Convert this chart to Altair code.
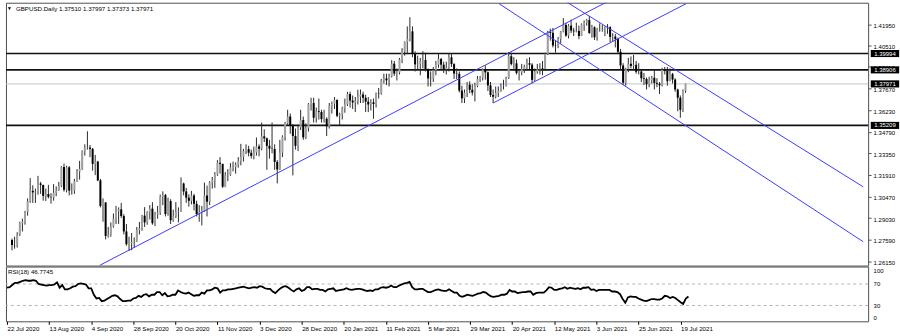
import altair as alt
import pandas as pd

# ---------------- data ----------------
first_open = 1.2758
closes = [
    1.2725, 1.2724, 1.2793, 1.2870, 1.2879, 1.2945, 1.3014, 1.3085, 1.3075, 1.3079,
    1.3134, 1.3125, 1.3052, 1.3064, 1.3045, 1.3042, 1.3073, 1.3088, 1.3118, 1.3244,
    1.3093, 1.3242, 1.3087, 1.3088, 1.3150, 1.3214, 1.3232, 1.3348, 1.3370, 1.3373,
    1.3365, 1.3265, 1.3280, 1.3155, 1.2985, 1.3008, 1.2785, 1.2795, 1.2849, 1.2898,
    1.2951, 1.2962, 1.2918, 1.2815, 1.2730, 1.2737, 1.2745, 1.2748, 1.2824, 1.2835,
    1.2920, 1.2875, 1.2944, 1.2967, 1.2870, 1.2929, 1.2940, 1.3046, 1.3057, 1.2931,
    1.3017, 1.2890, 1.2916, 1.2946, 1.2950, 1.3134, 1.3081, 1.3040, 1.3019, 1.3054,
    1.2999, 1.2931, 1.2944, 1.2950, 1.3054, 1.3013, 1.3142, 1.3155, 1.3194, 1.3272,
    1.3265, 1.3113, 1.3190, 1.3192, 1.3242, 1.3244, 1.3259, 1.3284, 1.3312, 1.3349,
    1.3363, 1.3339, 1.3318, 1.3341, 1.3381, 1.3365, 1.3448, 1.3435, 1.3385, 1.3366,
    1.3364, 1.3278, 1.3228, 1.3340, 1.3445, 1.3536, 1.3580, 1.3518, 1.3450, 1.3385,
    1.3507, 1.3557, 1.3441, 1.3502, 1.3662, 1.3670, 1.3572, 1.3615, 1.3610, 1.3563,
    1.3565, 1.3515, 1.3649, 1.3665, 1.3690, 1.3585, 1.3595, 1.3636, 1.3661, 1.3730,
    1.3686, 1.3674, 1.3682, 1.3712, 1.3727, 1.3705, 1.3679, 1.3660, 1.3675, 1.3663,
    1.3735, 1.3733, 1.3821, 1.3834, 1.3821, 1.3847, 1.3932, 1.3866, 1.3873, 1.3960,
    1.4012, 1.4078, 1.4095, 1.4147, 1.3996, 1.3927, 1.3931, 1.3950, 1.3957, 1.3895,
    1.3834, 1.3833, 1.3888, 1.3925, 1.3963, 1.3925, 1.3895, 1.3905, 1.3974, 1.3929,
    1.3866, 1.3864, 1.3753, 1.3701, 1.3738, 1.3792, 1.3758, 1.3739, 1.3783, 1.3830,
    1.3838, 1.3893, 1.3874, 1.3787, 1.3723, 1.3712, 1.3737, 1.3749, 1.3783, 1.3785,
    1.3836, 1.3981, 1.3929, 1.3934, 1.3870, 1.3874, 1.3895, 1.3913, 1.3935, 1.3925,
    1.3824, 1.3878, 1.3894, 1.3902, 1.3898, 1.3997, 1.4143, 1.4137, 1.4053, 1.4051,
    1.4096, 1.4146, 1.4190, 1.4119, 1.4185, 1.4152, 1.4147, 1.4150, 1.4116, 1.4193,
    1.4205, 1.4222, 1.4136, 1.4174, 1.4108, 1.4159, 1.4160, 1.4163, 1.4169, 1.4175,
    1.4110, 1.4112, 1.4095, 1.4011, 1.3920, 1.3805, 1.3896, 1.3931, 1.3917, 1.3924,
    1.3878, 1.3880, 1.3835, 1.3830, 1.3795, 1.3820, 1.3838, 1.3804, 1.3798, 1.3788,
    1.3891, 1.3885, 1.3815, 1.3862, 1.3826, 1.3760, 1.3705, 1.3625, 1.3751, 1.37971,
]
highs = [
    1.2768, 1.2780, 1.2810, 1.2880, 1.2900, 1.2952, 1.3035, 1.3170, 1.3122, 1.3100,
    1.3185, 1.3145, 1.3125, 1.3100, 1.3125, 1.3070, 1.3130, 1.3115, 1.3145, 1.3250,
    1.3267, 1.3252, 1.3250, 1.3135, 1.3165, 1.3230, 1.3285, 1.3355, 1.3395, 1.3482,
    1.3390, 1.3370, 1.3325, 1.3285, 1.3165, 1.3035, 1.3010, 1.2845, 1.2875, 1.2935,
    1.2985, 1.2975, 1.3005, 1.2930, 1.2865, 1.2780, 1.2805, 1.2775, 1.2845, 1.2878,
    1.2925, 1.2977, 1.2950, 1.2990, 1.3010, 1.2945, 1.2985, 1.3060, 1.3082, 1.3065,
    1.3040, 1.3030, 1.2960, 1.3010, 1.2975, 1.3175, 1.3140, 1.3105, 1.3062, 1.3085,
    1.3065, 1.3020, 1.2990, 1.2985, 1.3140, 1.3120, 1.3150, 1.3178, 1.3210, 1.3290,
    1.3310, 1.3265, 1.3210, 1.3230, 1.3270, 1.3280, 1.3275, 1.3310, 1.3398, 1.3365,
    1.3395, 1.3385, 1.3360, 1.3380, 1.3440, 1.3395, 1.3540, 1.3495, 1.3440, 1.3425,
    1.3540, 1.3395, 1.3290, 1.3425, 1.3455, 1.3545, 1.3625, 1.3600, 1.3530, 1.3500,
    1.3525, 1.3625, 1.3580, 1.3535, 1.3670, 1.3705, 1.3705, 1.3640, 1.3700, 1.3625,
    1.3625, 1.3575, 1.3670, 1.3680, 1.3710, 1.3695, 1.3605, 1.3645, 1.3700, 1.3745,
    1.3745, 1.3720, 1.3710, 1.3758, 1.3760, 1.3745, 1.3725, 1.3710, 1.3695, 1.3700,
    1.3740, 1.3770, 1.3830, 1.3865, 1.3865, 1.3865, 1.3955, 1.3950, 1.3900, 1.3970,
    1.4035, 1.4080, 1.4180, 1.4241, 1.4180, 1.4015, 1.3985, 1.3970, 1.4015, 1.4005,
    1.3900, 1.3880, 1.3910, 1.3950, 1.4000, 1.3970, 1.3945, 1.3945, 1.4000, 1.4000,
    1.3935, 1.3900, 1.3880, 1.3785, 1.3760, 1.3810, 1.3815, 1.3795, 1.3805, 1.3850,
    1.3850, 1.3900, 1.3920, 1.3880, 1.3810, 1.3760, 1.3780, 1.3780, 1.3800, 1.3825,
    1.3845, 1.4010, 1.4005, 1.3975, 1.3960, 1.3890, 1.3930, 1.3925, 1.3965, 1.3975,
    1.3935, 1.3900, 1.3930, 1.3935, 1.3950, 1.4005, 1.4150, 1.4165, 1.4170, 1.4085,
    1.4110, 1.4150, 1.4235, 1.4205, 1.4195, 1.4225, 1.4170, 1.4205, 1.4185, 1.4200,
    1.4220, 1.4230, 1.4249, 1.4190, 1.4180, 1.4170, 1.4200, 1.4190, 1.4180, 1.4195,
    1.4180, 1.4135, 1.4130, 1.4105, 1.4030, 1.3935, 1.3905, 1.3970, 1.3980, 1.3990,
    1.3950, 1.3935, 1.3890, 1.3870, 1.3840, 1.3845, 1.3850, 1.3895, 1.3835, 1.3810,
    1.3905, 1.3910, 1.3910, 1.3900, 1.3870, 1.3835, 1.3765, 1.3720, 1.3760, 1.37997,
]
lows = [
    1.2689, 1.2700, 1.2708, 1.2785, 1.2815, 1.2860, 1.2920, 1.3005, 1.3005, 1.3005,
    1.3060, 1.3065, 1.3020, 1.3018, 1.3035, 1.3000, 1.3020, 1.3050, 1.3085, 1.3110,
    1.3080, 1.3075, 1.3055, 1.3060, 1.3065, 1.3145, 1.3160, 1.3225, 1.3320, 1.3360,
    1.3310, 1.3220, 1.3190, 1.3150, 1.2975, 1.2880, 1.2762, 1.2774, 1.2780, 1.2840,
    1.2865, 1.2865, 1.2905, 1.2795, 1.2720, 1.2685, 1.2690, 1.2705, 1.2745, 1.2795,
    1.2820, 1.2845, 1.2860, 1.2895, 1.2860, 1.2850, 1.2900, 1.2925, 1.2990, 1.2915,
    1.2920, 1.2865, 1.2880, 1.2905, 1.2875, 1.2945, 1.3055, 1.3005, 1.2980, 1.2995,
    1.2955, 1.2915, 1.2880, 1.2855, 1.2945, 1.2915, 1.2990, 1.3100, 1.3105, 1.3185,
    1.3200, 1.3105, 1.3110, 1.3150, 1.3185, 1.3215, 1.3200, 1.3240, 1.3255, 1.3280,
    1.3330, 1.3315, 1.3300, 1.3295, 1.3320, 1.3315, 1.3355, 1.3410, 1.3225, 1.3300,
    1.3335, 1.3225, 1.3135, 1.3225, 1.3310, 1.3420, 1.3525, 1.3465, 1.3188, 1.3360,
    1.3350, 1.3490, 1.3425, 1.3430, 1.3480, 1.3620, 1.3540, 1.3540, 1.3560, 1.3540,
    1.3540, 1.3450, 1.3500, 1.3600, 1.3630, 1.3575, 1.3520, 1.3560, 1.3605, 1.3650,
    1.3640, 1.3630, 1.3610, 1.3660, 1.3670, 1.3670, 1.3610, 1.3610, 1.3620, 1.3565,
    1.3640, 1.3700, 1.3725, 1.3800, 1.3790, 1.3780, 1.3840, 1.3850, 1.3820, 1.3860,
    1.3935, 1.3985, 1.4000, 1.4080, 1.3975, 1.3880, 1.3890, 1.3855, 1.3900, 1.3880,
    1.3780, 1.3780, 1.3810, 1.3855, 1.3905, 1.3890, 1.3870, 1.3860, 1.3880, 1.3910,
    1.3830, 1.3830, 1.3740, 1.3670, 1.3670, 1.3710, 1.3735, 1.3720, 1.3680, 1.3775,
    1.3810, 1.3820, 1.3825, 1.3750, 1.3710, 1.3670, 1.3700, 1.3710, 1.3745, 1.3760,
    1.3780, 1.3830, 1.3920, 1.3885, 1.3860, 1.3820, 1.3855, 1.3870, 1.3885, 1.3895,
    1.3800, 1.3815, 1.3865, 1.3860, 1.3855, 1.3885, 1.3990, 1.4085, 1.4040, 1.4005,
    1.4035, 1.4065, 1.4140, 1.4110, 1.4100, 1.4135, 1.4115, 1.4140, 1.4095, 1.4115,
    1.4150, 1.4185, 1.4130, 1.4105, 1.4090, 1.4085, 1.4145, 1.4145, 1.4115, 1.4130,
    1.4075, 1.4080, 1.4040, 1.4000, 1.3890, 1.3790, 1.3785, 1.3875, 1.3900, 1.3890,
    1.3865, 1.3860, 1.3810, 1.3790, 1.3760, 1.3775, 1.3800, 1.3760, 1.3775, 1.3730,
    1.3780, 1.3860, 1.3785, 1.3815, 1.3800, 1.3745, 1.3615, 1.3572, 1.3610, 1.37373,
]
rsi = [
    63, 64, 68, 72, 72, 74, 76, 77, 76, 76,
    77, 76, 70, 69, 68, 67, 68, 68, 69, 73,
    63, 68, 60, 60, 62, 65, 66, 70, 71, 70,
    69, 62, 62, 50, 43, 44, 38, 39, 42, 45,
    48, 49, 47, 42, 38, 38, 39, 39, 43, 44,
    48, 46, 50, 51, 47, 50, 50, 55, 55, 49,
    53, 47, 48, 50, 50, 58, 55, 53, 52, 54,
    51, 48, 49, 49, 54, 52, 58, 58, 60, 63,
    62, 54, 58, 58, 60, 60, 61, 62, 63, 64,
    65, 63, 62, 63, 64, 63, 66, 65, 62, 61,
    61, 56, 53, 58, 62, 65, 66, 63, 59, 56,
    60, 62, 57, 59, 64, 64, 60, 61, 61, 59,
    59, 56, 60, 61, 62, 57, 58, 59, 60, 62,
    60, 59, 60, 61, 61, 60, 58, 57, 58, 57,
    60, 60, 63, 64, 63, 64, 67, 64, 64, 67,
    69, 71, 72, 74, 64, 60, 60, 61, 61, 58,
    55, 55, 57, 59, 60, 58, 57, 57, 60, 57,
    54, 54, 48, 46, 48, 50, 49, 48, 50, 52,
    53, 55, 54, 50, 47, 46, 47, 48, 50, 50,
    52, 59, 56, 56, 53, 54, 55, 55, 56, 56,
    50, 53, 54, 54, 54, 58, 64, 63, 59, 59,
    61, 62, 64, 61, 63, 62, 61, 62, 60, 63,
    63, 64, 59, 60, 57, 59, 59, 59, 59, 59,
    56, 56, 55, 51, 42, 35, 45, 47, 46, 46,
    43, 41, 39, 38, 40, 42, 42, 41, 41, 43,
    48, 47, 44, 46, 44, 40, 36, 33, 43, 46.7745,
]

date_ticks = [0, 16, 32, 48, 64, 80, 96, 112, 128, 144, 160, 176, 192, 208, 224, 240, 256]
date_labels = ["22 Jul 2020", "13 Aug 2020", "4 Sep 2020", "28 Sep 2020", "20 Oct 2020",
               "11 Nov 2020", "3 Dec 2020", "28 Dec 2020", "20 Jan 2021", "11 Feb 2021",
               "5 Mar 2021", "29 Mar 2021", "20 Apr 2021", "12 May 2021", "3 Jun 2021",
               "25 Jun 2021", "19 Jul 2021"]
price_ticks = [1.4195, 1.4051, 1.3911, 1.3767, 1.3623, 1.3479, 1.3335, 1.3191,
               1.3047, 1.2903, 1.2759, 1.2615]
levels = [1.39994, 1.38906, 1.35209]
last_price = 1.37971
rsi_levels_vals = [70, 30]

# trend lines: (bar index, price) end points
tl_id = ["L1", "L1", "L2", "L2", "L3", "L3", "L4", "L4"]
tl_bar = [33.65, 228.9, 185.0, 259.2, 213.5, 327.3, 187.3, 327.3]
tl_price = [1.25888, 1.43441, 1.3670, 1.43309, 1.4340, 1.3112, 1.43309, 1.2747]

title_text = "GBPUSD.Daily  1.37510 1.37997 1.37373 1.37971"
rsi_text = "RSI(18) 46.7745"

# ---------------- chart ----------------
FONT = "Liberation Sans"
W, H_MAIN, H_RSI = 866, 264, 55

n = len(closes)
opens = [first_open] + closes[:-1]
candles = pd.DataFrame({"i": list(range(n)), "o": opens, "h": highs, "l": lows, "c": closes})
candles["up"] = candles["c"] >= candles["o"]

xs = alt.Scale(domain=[-0.4, 327.3], nice=False, zero=False)
ps = alt.Scale(domain=[1.2588, 1.43375], nice=False, zero=False)
rs = alt.Scale(domain=[0.56, 102.4], nice=False, zero=False)

price_axis = alt.Axis(orient="right", values=price_ticks, format=".5f", title=None,
                      tickSize=3, tickColor="#555555", labelPadding=2, labelFontSize=6,
                      labelFont=FONT, labelColor="#000000", domain=False, grid=False,
                      labelOffset=1, labelFlush=False, labelOverlap=False)


def py(field):
    return alt.Y(field, scale=ps, axis=price_axis)


def px(field="i:Q"):
    return alt.X(field, scale=xs, axis=None)


bid_rule = alt.Chart(pd.DataFrame({"p": [last_price]})).mark_rule(
    color="#c4c4c4", strokeWidth=1).encode(y=py("p:Q"))

level_rules = alt.Chart(pd.DataFrame({"p": levels})).mark_rule(
    color="#111111", strokeWidth=1.6).encode(y=py("p:Q"))

base = alt.Chart(candles)
wicks = base.mark_rule(color="#2a2a2a", strokeWidth=1).encode(
    x=px(), y=py("l:Q"), y2="h:Q")
bodies = base.mark_bar(size=2).encode(
    x=px(), y=py("o:Q"), y2="c:Q",
    color=alt.condition("datum.up", alt.value("#a0a0a0"), alt.value("#000000")))

tl = pd.DataFrame({"id": tl_id, "i": tl_bar, "p": tl_price})
trend = alt.Chart(tl).mark_line(color="#3b3bff", strokeWidth=1, clip=True).encode(
    x=px(), y=py("p:Q"), detail="id:N")

tags = pd.DataFrame({"p": levels + [last_price],
                     "t": [f"{v:.5f}" for v in levels + [last_price]]})
tag_box = alt.Chart(tags).mark_point(
    shape="M-1,-0.25L1,-0.25L1,0.25L-1,0.25Z", size=812, filled=True,
    color="#000000", opacity=1).encode(x=alt.value(882.9), y=py("p:Q"))
tag_text = alt.Chart(tags).mark_text(
    color="#ffffff", font=FONT, fontSize=6, align="center", baseline="middle").encode(
    x=alt.value(882.9), y=py("p:Q"), text="t:N")

title_df = pd.DataFrame({"t": [title_text]})
tri = alt.Chart(title_df).mark_point(shape="triangle-down", filled=True, size=10,
                                     color="#000000", opacity=1).encode(
    x=alt.value(3.5), y=alt.value(6))
title_mark = alt.Chart(title_df).mark_text(
    align="left", baseline="middle", font=FONT, fontSize=6.2, color="#000000").encode(
    x=alt.value(10), y=alt.value(6), text="t:N")

main = alt.layer(bid_rule, level_rules, wicks, bodies, trend, tag_box, tag_text,
                 tri, title_mark).properties(width=W, height=H_MAIN)

label_expr = "[" + ",".join(f"'{d}'" for d in date_labels) + "][round(datum.value/16)]"
x_axis = alt.Axis(values=date_ticks, labelExpr=label_expr, orient="bottom", title=None,
                  tickSize=3, tickColor="#000000", labelAlign="left", labelBaseline="top",
                  labelPadding=1, labelFont=FONT, labelFontSize=6.2, labelColor="#000000",
                  domain=False, grid=False, labelFlush=False, labelOverlap=False,
                  labelBound=False)
rsi_axis = alt.Axis(orient="right", values=[95, 70, 30, 7],
                    labelExpr="datum.value==95?'100':(datum.value==7?'0':format(datum.value,'d'))",
                    ticks=False, labelPadding=5, labelFont=FONT, labelFontSize=6,
                    labelColor="#000000", domain=False, grid=False, title=None,
                    labelFlush=False, labelOverlap=False)

rsi_df = pd.DataFrame({"i": list(range(n)), "v": rsi})
rsi_lv = alt.Chart(pd.DataFrame({"v": rsi_levels_vals})).mark_rule(
    color="#b4b4b4", strokeDash=[3, 3], strokeWidth=1).encode(
    y=alt.Y("v:Q", scale=rs, axis=rsi_axis))
rsi_line = alt.Chart(rsi_df).mark_line(color="#000000", strokeWidth=1.8).encode(
    x=alt.X("i:Q", scale=xs, axis=x_axis),
    y=alt.Y("v:Q", scale=rs, axis=rsi_axis))
rsi_lab = alt.Chart(pd.DataFrame({"t": [rsi_text]})).mark_text(
    align="left", baseline="middle", font=FONT, fontSize=6.2, color="#000000").encode(
    x=alt.value(2), y=alt.value(5), text="t:N")

lower = alt.layer(rsi_lv, rsi_line, rsi_lab).properties(width=W, height=H_RSI)

chart = alt.vconcat(main, lower, spacing=1, bounds="flush").properties(
    padding={"left": 2, "top": 1, "right": 0, "bottom": 0},
    background="white",
).configure_view(stroke="#505050", strokeWidth=1)

chart.save("out.html", embed_options={"renderer": "svg", "actions": False})
